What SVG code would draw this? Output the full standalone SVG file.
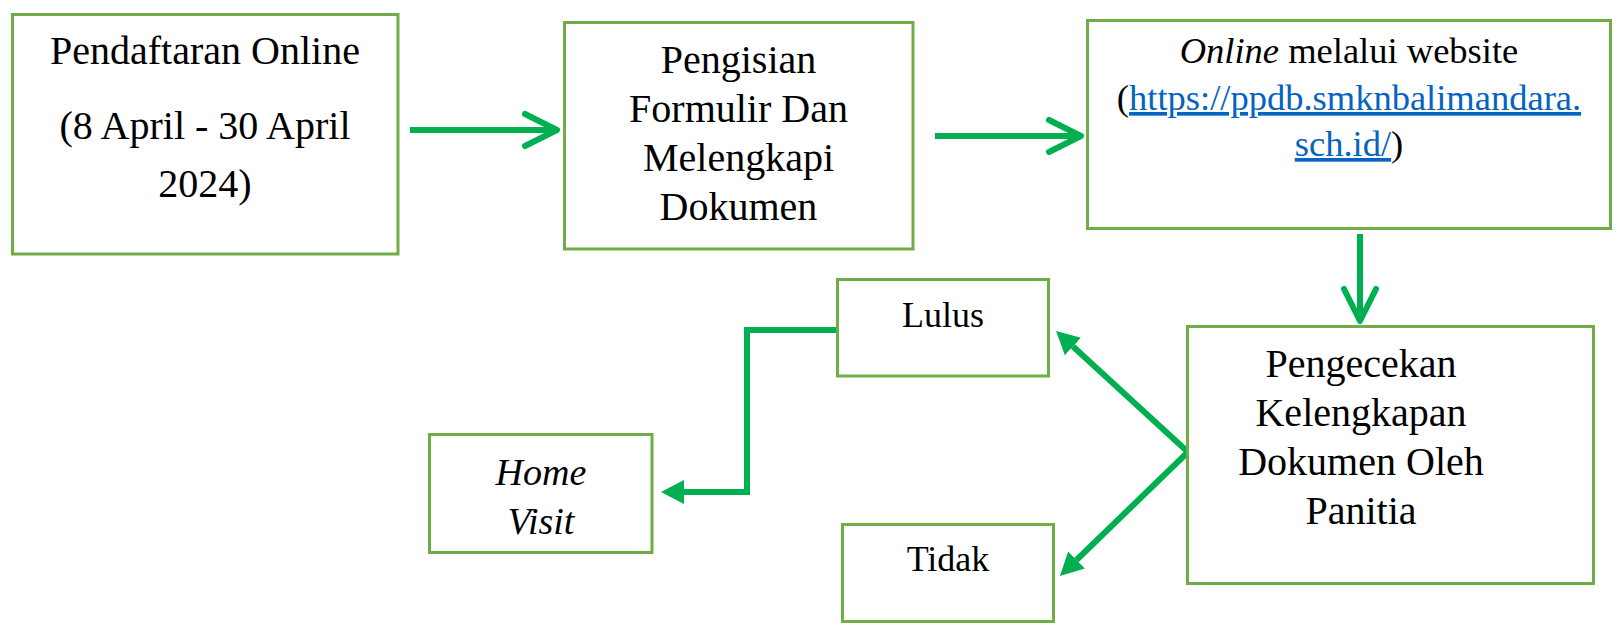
<svg xmlns="http://www.w3.org/2000/svg" width="1618" height="629" viewBox="0 0 1618 629">
<style>
.box{fill:#ffffff;stroke:#70AD47;stroke-width:3}
.t{font-family:"Liberation Serif","Times New Roman",serif;fill:#000000;text-anchor:middle}
.i{font-style:italic}
.link{fill:#0563C1;text-decoration:underline}
.con{fill:none;stroke:#00B050;stroke-width:6}
</style>
<defs>
<marker id="chev" markerUnits="userSpaceOnUse" viewBox="-40 -22 46 44" markerWidth="46" markerHeight="44" refX="-4" refY="0" orient="auto">
<path d="M-32,-16 L0,0 L-32,16" fill="none" stroke="#00B050" stroke-width="6" stroke-linecap="round" stroke-linejoin="round"/>
</marker>
<marker id="tri" markerUnits="userSpaceOnUse" viewBox="0 -13 24 26" markerWidth="24" markerHeight="26" refX="0" refY="0" orient="auto-start-reverse">
<path d="M0,-12 L23,0 L0,12 Z" fill="#00B050"/>
</marker>
</defs>
<rect width="1618" height="629" fill="#ffffff"/>
<g id="connectors">
<path class="con" d="M410,130 H553" marker-end="url(#chev)"/>
<path class="con" d="M935,136 H1077" marker-end="url(#chev)"/>
<path class="con" d="M1360,234 V317" marker-end="url(#chev)"/>
<path class="con" d="M836,330 H747 V492 H684" marker-end="url(#tri)"/>
<path class="con" d="M1073,346.5 L1188,452 L1076.5,560" marker-start="url(#tri)" marker-end="url(#tri)"/>
</g>
<g id="n-pendaftaran">
<rect class="box" x="12.5" y="14.5" width="385.5" height="239.5"/>
<text class="t" font-size="40" x="205" y="64">Pendaftaran Online</text>
<text class="t" font-size="40" x="205" y="139">(8 April - 30 April</text>
<text class="t" font-size="40" x="205" y="197">2024)</text>
</g>
<g id="n-pengisian">
<rect class="box" x="564.5" y="22.5" width="348.5" height="226.5"/>
<text class="t" font-size="40" x="738.5" y="73">Pengisian</text>
<text class="t" font-size="40" x="738.5" y="122">Formulir Dan</text>
<text class="t" font-size="40" x="738.5" y="171">Melengkapi</text>
<text class="t" font-size="40" x="738.5" y="220">Dokumen</text>
</g>
<g id="n-online">
<rect class="box" x="1087.5" y="20.5" width="523" height="208"/>
<text class="t" font-size="36.5" x="1349" y="63"><tspan class="i">Online</tspan> melalui website</text>
<text class="t" font-size="36.5" x="1349" y="110">(<tspan class="link">https://ppdb.smknbalimandara.</tspan></text>
<text class="t" font-size="36.5" x="1349" y="156"><tspan class="link">sch.id/</tspan>)</text>
</g>
<g id="n-pengecekan">
<rect class="box" x="1187.5" y="326.5" width="406" height="257"/>
<text class="t" font-size="40" x="1361" y="377">Pengecekan</text>
<text class="t" font-size="40" x="1361" y="426">Kelengkapan</text>
<text class="t" font-size="40" x="1361" y="475">Dokumen Oleh</text>
<text class="t" font-size="40" x="1361" y="524">Panitia</text>
</g>
<g id="n-lulus">
<rect class="box" x="837.5" y="279.5" width="211" height="96.5"/>
<text class="t" font-size="36" x="943" y="327">Lulus</text>
</g>
<g id="n-tidak">
<rect class="box" x="842.5" y="524.5" width="211" height="97"/>
<text class="t" font-size="36" x="948" y="571">Tidak</text>
</g>
<g id="n-homevisit">
<rect class="box" x="429.5" y="434.5" width="222.5" height="118"/>
<text class="t i" font-size="38" x="541" y="485">Home</text>
<text class="t i" font-size="38" x="541" y="534">Visit</text>
</g>
</svg>
